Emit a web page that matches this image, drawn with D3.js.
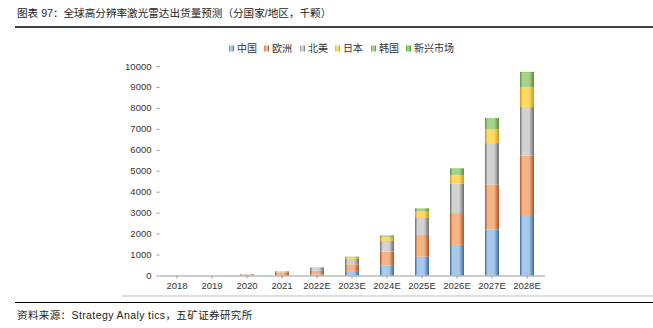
<!DOCTYPE html>
<html><head><meta charset="utf-8">
<script src="https://cdn.jsdelivr.net/npm/d3@7/dist/d3.min.js"></script>
<style>
html,body{margin:0;padding:0;background:#fff;}
svg{display:block;font-family:"Liberation Sans","Noto Sans CJK SC",sans-serif;}
</style></head>
<body><svg id="c" width="653" height="328"></svg>
<script>
const categories = ["2018","2019","2020","2021","2022E","2023E","2024E","2025E","2026E","2027E","2028E"];
const seriesNames = ["中国","欧洲","北美","日本","韩国","新兴市场"];
const china  = [0, 0, 5, 15, 50, 170, 490, 900, 1460, 2190, 2890];
const europe = [0, 0, 40, 140, 170, 365, 650, 1035, 1520, 2160, 2830];
const northAmerica = [0, 0, 15, 40, 140, 255, 510, 810, 1400, 1970, 2320];
const japan  = [0, 0, 0, 10, 20, 60, 190, 305, 420, 670, 960];
const korea  = [0, 0, 0, 5, 15, 40, 65, 140, 290, 490, 660];
const emerging = [0, 0, 0, 2, 5, 10, 15, 20, 30, 40, 60];
const yTicks = [0,1000,2000,3000,4000,5000,6000,7000,8000,9000,10000];
const titleText = "图表 97：全球高分辨率激光雷达出货量预测（分国家/地区，千颗）";
const sourceText = "资料来源：Strategy  Analy tics，五矿证券研究所";

const colors = [
  {dark:"#3d6899", light:"#a8c8ec"},
  {dark:"#a5532b", light:"#f5b485"},
  {dark:"#6b6b6b", light:"#d2d2d2"},
  {dark:"#c49b1f", light:"#ffd966"},
  {dark:"#5e8a3a", light:"#a9d18e"},
  {dark:"#4a8c28", light:"#92d26c"}
];

const svg = d3.select("#c");
const defs = svg.append("defs");
colors.forEach((c,i)=>{
  const g = defs.append("linearGradient").attr("id","g"+i).attr("x1","0").attr("x2","1").attr("y1","0").attr("y2","0");
  g.append("stop").attr("offset","0%").attr("stop-color",c.dark);
  g.append("stop").attr("offset","18%").attr("stop-color",c.light);
  g.append("stop").attr("offset","65%").attr("stop-color",c.light);
  g.append("stop").attr("offset","100%").attr("stop-color",c.dark);
});

// title & rules
svg.append("text").attr("x",17).attr("y",17).attr("font-size",10.6).attr("fill","#222").text(titleText);
svg.append("line").attr("x1",15).attr("x2",653).attr("y1",27).attr("y2",27).attr("stroke","#000").attr("stroke-width",1.5);
svg.append("line").attr("x1",122).attr("x2",653).attr("y1",296).attr("y2",296).attr("stroke","#bbb").attr("stroke-width",1);
svg.append("line").attr("x1",15).attr("x2",653).attr("y1",302.5).attr("y2",302.5).attr("stroke","#000").attr("stroke-width",1.2);
svg.append("text").attr("x",17).attr("y",319).attr("font-size",10.5).attr("fill","#222").attr("letter-spacing",0.4).text(sourceText);

const x = d3.scaleBand().domain(categories).range([159.5,544.5]).paddingInner(0.6).paddingOuter(0.3);
const y = d3.scaleLinear().domain([0,10000]).range([275.5,66]);

const data = categories.map((c,i)=>({cat:c, "中国":china[i],"欧洲":europe[i],"北美":northAmerica[i],"日本":japan[i],"韩国":korea[i],"新兴市场":emerging[i]}));
const stack = d3.stack().keys(seriesNames)(data);

// y axis
const yAxis = svg.append("g").attr("transform","translate(159.5,0)")
  .call(d3.axisLeft(y).tickValues(yTicks).tickSize(3).tickPadding(5).tickFormat(d3.format("d")));
yAxis.select(".domain").remove();
yAxis.selectAll(".tick line").attr("stroke","#999");
yAxis.selectAll("text").attr("font-size",9.5).attr("fill","#333").attr("font-family","Liberation Sans, sans-serif");

// bars
svg.append("g").selectAll("g").data(stack).join("g")
  .attr("fill",(d,i)=>"url(#g"+i+")")
  .selectAll("rect").data(d=>d).join("rect")
  .attr("x",d=>x(d.data.cat))
  .attr("width",x.bandwidth())
  .attr("y",d=>y(d[1]))
  .attr("height",d=>Math.max(0,y(d[0])-y(d[1])));

// x axis
const xAxis = svg.append("g").attr("transform","translate(0,275.5)")
  .call(d3.axisBottom(x).tickSize(3).tickSizeOuter(0).tickPadding(4));
xAxis.select(".domain").attr("stroke","#999");
xAxis.selectAll(".tick line").attr("stroke","#999");
xAxis.selectAll("text").attr("font-size",9.5).attr("fill","#333").attr("font-family","Liberation Sans, sans-serif");

// legend
const legX = [229, 264, 300, 335, 371, 406];
const leg = svg.append("g");
seriesNames.forEach((n,i)=>{
  leg.append("rect").attr("x",legX[i]).attr("y",45.5).attr("width",5).attr("height",6).attr("fill","url(#g"+i+")");
  leg.append("text").attr("x",legX[i]+8).attr("y",52).attr("font-size",10).attr("fill","#333").text(n);
});
</script></body></html>
